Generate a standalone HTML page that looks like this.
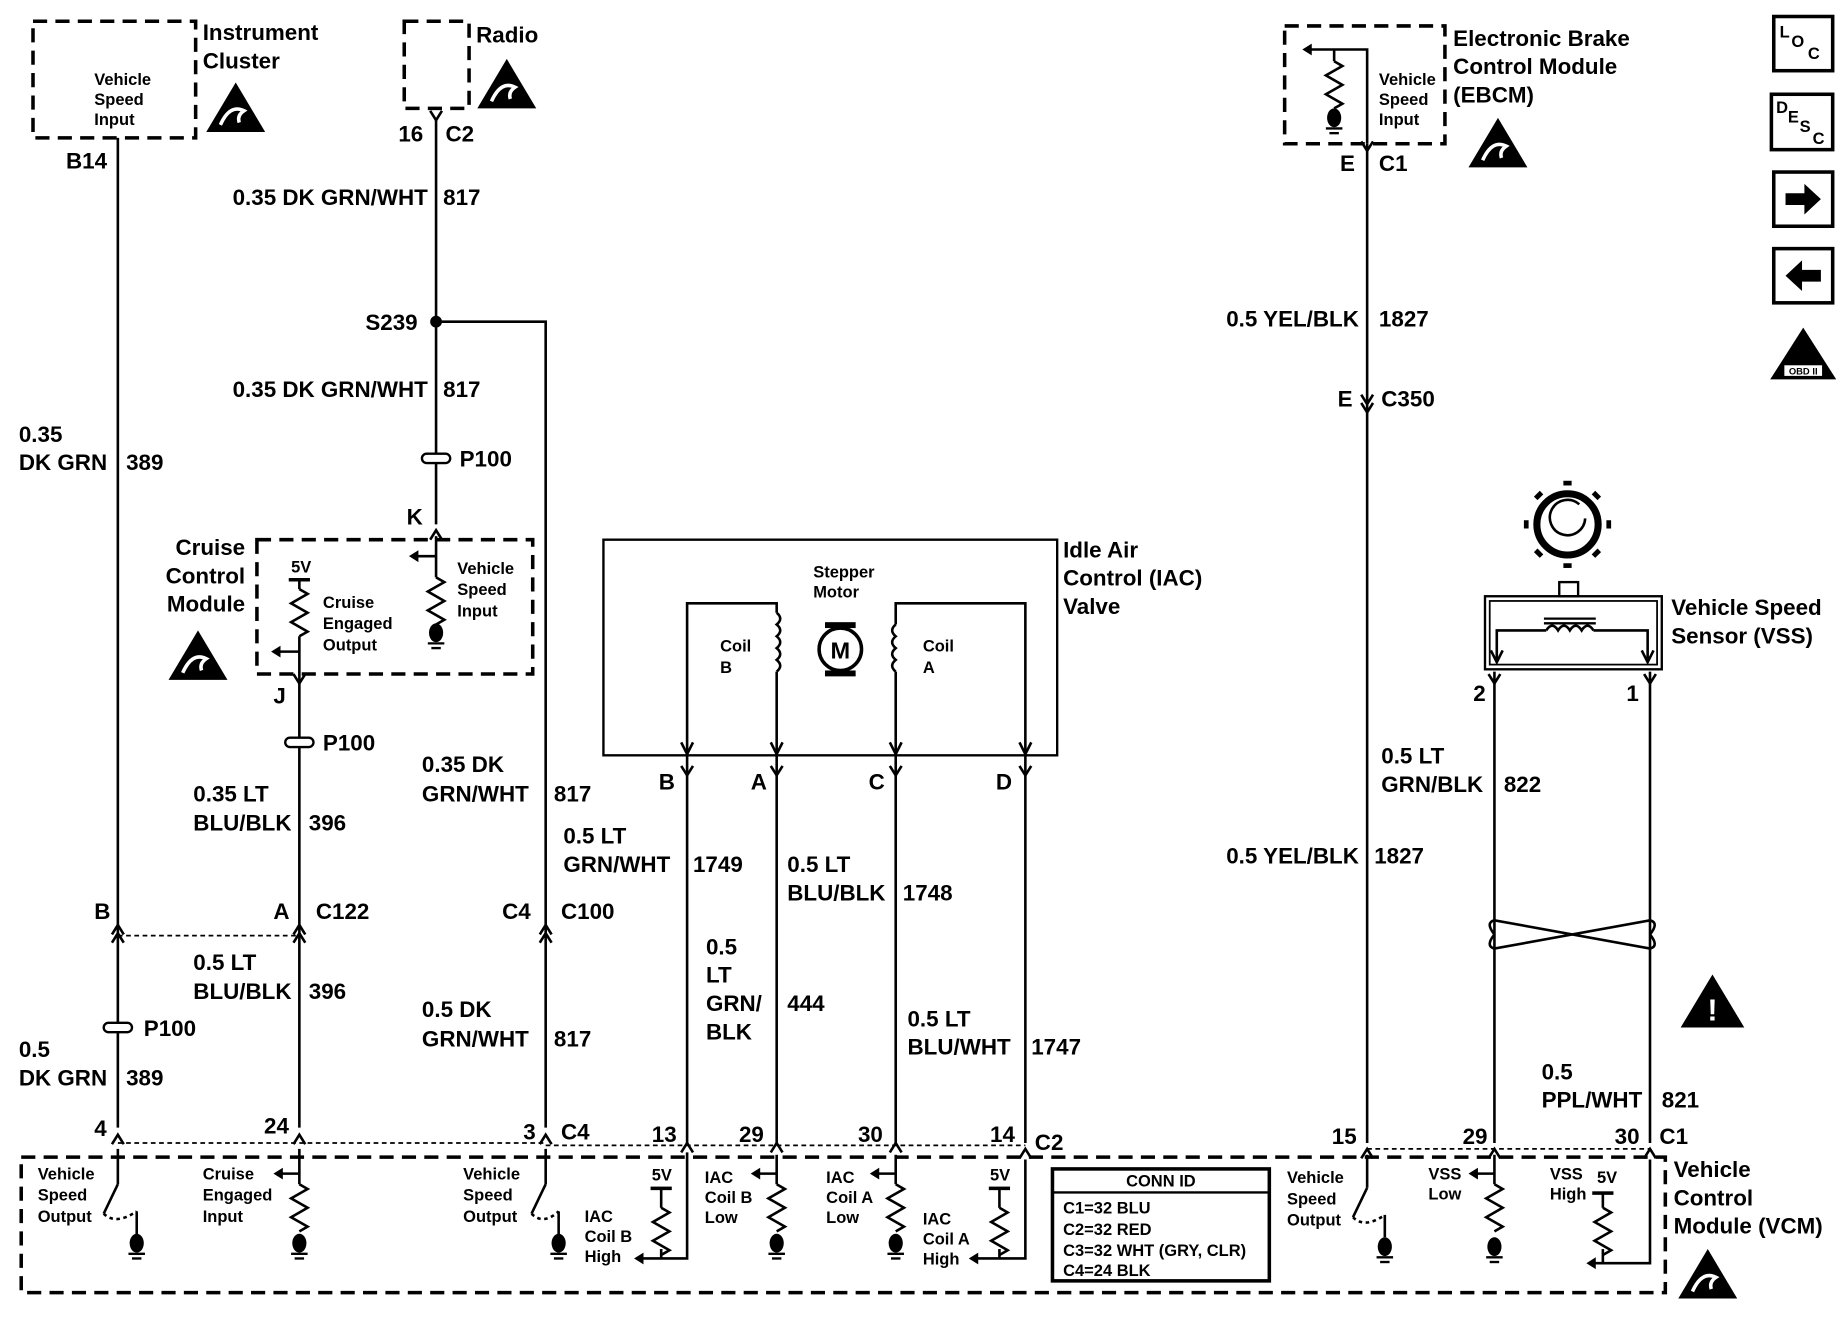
<!DOCTYPE html>
<html><head><meta charset="utf-8"><style>
html,body{margin:0;padding:0;background:#fff}
svg{display:block}
text{font-family:"Liberation Sans",Arial,sans-serif;fill:#000;font-weight:bold}
.l{font-size:19px}
.s{font-size:14px}
.w{stroke:#000;stroke-width:2.2;fill:none}
.d{stroke:#000;stroke-width:3;fill:none;stroke-dasharray:12,7}
.dd{stroke:#000;stroke-width:1.5;fill:none;stroke-dasharray:4,3}
</style></head><body>
<svg width="1848" height="1328" viewBox="0 0 1568 1127" preserveAspectRatio="none" xmlns="http://www.w3.org/2000/svg">
<defs>
<g id="esd"><polygon points="25,0 50,42 0,42" fill="#000"/><path d="M12,36 q8,-18 20,-12 q-6,4 -4,10" stroke="#fff" stroke-width="3" fill="none"/></g>
<path id="res" d="M0,0 l7,4 l-14,8 l14,8 l-14,8 l14,8 l-7,4" class="w"/>
<g id="gnd"><ellipse cx="0" cy="0" rx="6" ry="8" fill="#000"/><line x1="-7" y1="9" x2="7" y2="9" stroke="#000" stroke-width="2"/><line x1="-4" y1="13" x2="4" y2="13" stroke="#000" stroke-width="2"/></g>
<g id="cu"><path d="M-5,8 L0,0 L5,8" class="w"/></g>
<g id="cd"><path d="M-5,-8 L0,0 L5,-8" class="w"/></g>
</defs>
<rect width="1568" height="1127" fill="#fff"/>

<rect x="28" y="18" width="138" height="99" class="d"/>
<text class="s" x="80" y="72">Vehicle</text><text class="s" x="80" y="89">Speed</text><text class="s" x="80" y="106">Input</text>
<text class="l" x="172" y="34">Instrument</text><text class="l" x="172" y="58">Cluster</text>
<use href="#esd" x="175" y="70"/>
<text class="l" x="56" y="143">B14</text>
<line x1="100" y1="117" x2="100" y2="957" class="w"/>
<text class="l" x="16" y="375">0.35</text><text class="l" x="16" y="399">DK GRN</text><text class="l" x="107" y="399">389</text>

<rect x="343" y="18" width="55" height="74" class="d"/>
<text class="l" x="404" y="36">Radio</text>
<use href="#esd" x="405" y="50"/>
<text class="l" x="338" y="120">16</text><text class="l" x="378" y="120">C2</text>
<use href="#cd" x="370" y="102"/>
<line x1="370" y1="102" x2="370" y2="445" class="w"/>
<text class="l" x="363" y="174" text-anchor="end">0.35 DK GRN/WHT</text><text class="l" x="376" y="174">817</text>
<circle cx="370" cy="273" r="5" fill="#000"/>
<text class="l" x="310" y="280">S239</text>
<polyline points="370,273 463,273 463,957" class="w"/>
<text class="l" x="363" y="337" text-anchor="end">0.35 DK GRN/WHT</text><text class="l" x="376" y="337">817</text>
<rect x="358" y="385" width="24" height="8" rx="4" fill="#fff" stroke="#000" stroke-width="2"/>
<text class="l" x="390" y="396">P100</text>
<text class="l" x="345" y="445">K</text>
<use href="#cu" x="370" y="450"/>

<rect x="218" y="458" width="234" height="114" class="d"/>
<text class="l" x="208" y="471" text-anchor="end">Cruise</text><text class="l" x="208" y="495" text-anchor="end">Control</text><text class="l" x="208" y="519" text-anchor="end">Module</text>
<use href="#esd" x="143" y="535"/>
<text class="s" x="247" y="486">5V</text>
<line x1="245" y1="492" x2="263" y2="492" stroke="#000" stroke-width="3"/>
<line x1="254" y1="492" x2="254" y2="500" class="w"/>
<use href="#res" x="254" y="500"/>
<line x1="254" y1="540" x2="254" y2="572" class="w"/>
<line x1="232" y1="553" x2="254" y2="553" class="w"/><path d="M238,548 L230,553 L238,558 Z"/>
<text class="s" x="274" y="516">Cruise</text><text class="s" x="274" y="534">Engaged</text><text class="s" x="274" y="552">Output</text>
<line x1="370" y1="455" x2="370" y2="490" class="w"/>
<use href="#res" x="370" y="490"/>
<use href="#gnd" x="370" y="537"/>
<line x1="350" y1="472" x2="370" y2="472" class="w"/><path d="M355,467 L347,472 L355,477 Z"/>
<text class="s" x="388" y="487">Vehicle</text><text class="s" x="388" y="505">Speed</text><text class="s" x="388" y="523">Input</text>
<text class="l" x="232" y="597">J</text>
<use href="#cd" x="254" y="580"/>
<line x1="254" y1="572" x2="254" y2="957" class="w"/>
<rect x="242" y="626" width="24" height="8" rx="4" fill="#fff" stroke="#000" stroke-width="2"/>
<text class="l" x="274" y="637">P100</text>
<text class="l" x="164" y="680">0.35 LT</text><text class="l" x="164" y="705">BLU/BLK</text><text class="l" x="262" y="705">396</text>

<text class="l" x="80" y="780">B</text><text class="l" x="232" y="780">A</text><text class="l" x="268" y="780">C122</text>
<use href="#cu" x="100" y="785"/><use href="#cu" x="254" y="785"/>
<use href="#cu" x="100" y="792"/><use href="#cu" x="254" y="792"/>
<line x1="100" y1="794" x2="254" y2="794" class="dd"/>
<text class="l" x="164" y="823">0.5 LT</text><text class="l" x="164" y="848">BLU/BLK</text><text class="l" x="262" y="848">396</text>
<rect x="88" y="868" width="24" height="8" rx="4" fill="#fff" stroke="#000" stroke-width="2"/>
<text class="l" x="122" y="879">P100</text>
<text class="l" x="16" y="897">0.5</text><text class="l" x="16" y="921">DK GRN</text><text class="l" x="107" y="921">389</text>

<text class="l" x="358" y="655">0.35 DK</text><text class="l" x="358" y="680">GRN/WHT</text><text class="l" x="470" y="680">817</text>
<text class="l" x="426" y="780">C4</text><text class="l" x="476" y="780">C100</text>
<use href="#cu" x="463" y="785"/><use href="#cu" x="463" y="792"/>
<text class="l" x="358" y="863">0.5 DK</text><text class="l" x="358" y="888">GRN/WHT</text><text class="l" x="470" y="888">817</text>

<rect x="512" y="458" width="385" height="183" fill="none" stroke="#000" stroke-width="2"/>
<text class="l" x="902" y="473">Idle Air</text><text class="l" x="902" y="497">Control (IAC)</text><text class="l" x="902" y="521">Valve</text>
<text class="s" x="690" y="490">Stepper</text><text class="s" x="690" y="507">Motor</text>
<circle cx="713" cy="551" r="18" fill="#fff" stroke="#000" stroke-width="3"/>
<text x="713" y="559" text-anchor="middle" style="font-size:20px">M</text>
<rect x="700" y="528" width="26" height="5" fill="#000"/><rect x="700" y="569" width="26" height="5" fill="#000"/>
<polyline points="583,638 583,512 659,512 659,520" class="w"/>
<path d="M659,520 q6,5 0,10 q6,5 0,10 q6,5 0,10 q6,5 0,10 q6,5 0,10" class="w"/>
<line x1="659" y1="570" x2="659" y2="638" class="w"/>
<text class="s" x="611" y="553">Coil</text><text class="s" x="611" y="571">B</text>
<polyline points="870,638 870,512 760,512 760,530" class="w"/>
<path d="M760,530 q-6,5 0,10 q-6,5 0,10 q-6,5 0,10 q-6,5 0,10" class="w"/>
<line x1="760" y1="570" x2="760" y2="638" class="w"/>
<text class="s" x="783" y="553">Coil</text><text class="s" x="783" y="571">A</text>
<path d="M578,630 L583,640 L588,630 M654,630 L659,640 L664,630 M755,630 L760,640 L765,630 M865,630 L870,640 L875,630" class="w"/>
<text class="l" x="559" y="670">B</text><text class="l" x="637" y="670">A</text><text class="l" x="737" y="670">C</text><text class="l" x="845" y="670">D</text>
<use href="#cd" x="583" y="658"/><use href="#cd" x="659" y="658"/><use href="#cd" x="760" y="658"/><use href="#cd" x="870" y="658"/>
<line x1="583" y1="641" x2="583" y2="970" class="w"/><line x1="659" y1="641" x2="659" y2="970" class="w"/>
<line x1="760" y1="641" x2="760" y2="970" class="w"/><line x1="870" y1="641" x2="870" y2="970" class="w"/>
<text class="l" x="478" y="716">0.5 LT</text><text class="l" x="478" y="740">GRN/WHT</text><text class="l" x="588" y="740">1749</text>
<text class="l" x="668" y="740">0.5 LT</text><text class="l" x="668" y="764">BLU/BLK</text><text class="l" x="766" y="764">1748</text>
<text class="l" x="599" y="810">0.5</text><text class="l" x="599" y="834">LT</text><text class="l" x="599" y="858">GRN/</text><text class="l" x="599" y="882">BLK</text><text class="l" x="668" y="858">444</text>
<text class="l" x="770" y="871">0.5 LT</text><text class="l" x="770" y="895">BLU/WHT</text><text class="l" x="875" y="895">1747</text>

<rect x="1090" y="22" width="136" height="100" class="d"/>
<text class="l" x="1233" y="39">Electronic Brake</text><text class="l" x="1233" y="63">Control Module</text><text class="l" x="1233" y="87">(EBCM)</text>
<use href="#esd" x="1246" y="100"/>
<polyline points="1110,42 1160,42 1160,122" class="w"/><path d="M1113,37 L1105,42 L1113,47 Z"/>
<line x1="1132" y1="42" x2="1132" y2="52" class="w"/><use href="#res" x="1132" y="52"/><use href="#gnd" x="1132" y="100"/>
<text class="s" x="1170" y="72">Vehicle</text><text class="s" x="1170" y="89">Speed</text><text class="s" x="1170" y="106">Input</text>
<text class="l" x="1137" y="145">E</text><text class="l" x="1170" y="145">C1</text>
<use href="#cd" x="1160" y="128"/>
<line x1="1160" y1="122" x2="1160" y2="970" class="w"/>
<text class="l" x="1153" y="277" text-anchor="end">0.5 YEL/BLK</text><text class="l" x="1170" y="277">1827</text>
<text class="l" x="1135" y="345">E</text><text class="l" x="1172" y="345">C350</text>
<use href="#cd" x="1160" y="343"/><use href="#cd" x="1160" y="350"/>
<text class="l" x="1153" y="733" text-anchor="end">0.5 YEL/BLK</text><text class="l" x="1166" y="733">1827</text>

<circle cx="1330" cy="445" r="26" fill="#fff" stroke="#000" stroke-width="6"/>
<g stroke="#000" stroke-width="7">
<line x1="1330" y1="412" x2="1330" y2="408"/><line x1="1330" y1="478" x2="1330" y2="482"/>
<line x1="1297" y1="445" x2="1293" y2="445"/><line x1="1363" y1="445" x2="1367" y2="445"/>
<line x1="1307" y1="422" x2="1304" y2="419"/><line x1="1353" y1="422" x2="1356" y2="419"/>
<line x1="1307" y1="468" x2="1304" y2="471"/><line x1="1353" y1="468" x2="1356" y2="471"/></g>
<path d="M1345,440 a15,15 0 1 1 -5,-12" class="w" stroke-width="3"/>
<rect x="1323" y="494" width="16" height="12" fill="#fff" stroke="#000" stroke-width="2"/>
<rect x="1260" y="506" width="150" height="62" fill="none" stroke="#000" stroke-width="2"/>
<rect x="1264" y="510" width="142" height="54" fill="none" stroke="#000" stroke-width="1.5"/>
<polyline points="1270,560 1270,535 1312,535" class="w"/><path d="M1312,535 q5,-8 10,0 q5,-8 10,0 q5,-8 10,0 q5,-8 10,0" class="w"/><polyline points="1352,535 1398,535 1398,560" class="w"/>
<line x1="1310" y1="525" x2="1354" y2="525" stroke="#000" stroke-width="2"/><line x1="1310" y1="529" x2="1354" y2="529" stroke="#000" stroke-width="2"/>
<path d="M1265,552 L1270,562 L1275,552 M1393,552 L1398,562 L1403,552" class="w"/>
<text class="l" x="1418" y="522">Vehicle Speed</text><text class="l" x="1418" y="546">Sensor (VSS)</text>
<text class="l" x="1250" y="595">2</text><text class="l" x="1380" y="595">1</text>
<use href="#cd" x="1268" y="580"/><use href="#cd" x="1400" y="580"/>
<line x1="1268" y1="570" x2="1268" y2="970" class="w"/><line x1="1400" y1="570" x2="1400" y2="970" class="w"/>
<path d="M1268,793 q-8,-10 0,-12 L1400,805 q8,-2 0,-12 M1268,793 q-8,10 0,12 L1400,781 q8,2 0,12" class="w"/>
<text class="l" x="1172" y="648">0.5 LT</text><text class="l" x="1172" y="672">GRN/BLK</text><text class="l" x="1276" y="672">822</text>
<polygon points="1453,827 1480,872 1426,872" fill="#000"/>
<text x="1453" y="866" text-anchor="middle" style="font-size:26px;font-weight:bold;fill:#fff">!</text>
<text class="l" x="1308" y="916">0.5</text><text class="l" x="1308" y="940">PPL/WHT</text><text class="l" x="1410" y="940">821</text>

<text class="l" x="80" y="964">4</text><text class="l" x="224" y="962">24</text><text class="l" x="444" y="967">3</text><text class="l" x="476" y="967">C4</text>
<text class="l" x="553" y="969">13</text><text class="l" x="627" y="969">29</text><text class="l" x="728" y="969">30</text><text class="l" x="840" y="969">14</text><text class="l" x="878" y="976">C2</text>
<text class="l" x="1130" y="971">15</text><text class="l" x="1241" y="971">29</text><text class="l" x="1370" y="971">30</text><text class="l" x="1408" y="971">C1</text>
<g>
<use href="#cu" x="100" y="963"/><use href="#cu" x="254" y="963"/><use href="#cu" x="463" y="963"/><use href="#cu" x="583" y="970"/><use href="#cu" x="659" y="970"/><use href="#cu" x="760" y="970"/><use href="#cu" x="870" y="975"/><use href="#cu" x="1160" y="975"/><use href="#cu" x="1268" y="975"/><use href="#cu" x="1400" y="975"/>
</g>
<polyline points="100,970 463,970" class="dd"/><polyline points="463,972 870,972" class="dd"/><polyline points="1160,975 1400,975" class="dd"/>

<rect x="18" y="982" width="1395" height="115" class="d"/>
<text class="l" x="1420" y="999">Vehicle</text><text class="l" x="1420" y="1023">Control</text><text class="l" x="1420" y="1047">Module (VCM)</text>
<use href="#esd" x="1424" y="1060"/>
<text class="s" x="32" y="1001">Vehicle</text><text class="s" x="32" y="1019">Speed</text><text class="s" x="32" y="1037">Output</text>
<text class="s" x="172" y="1001">Cruise</text><text class="s" x="172" y="1019">Engaged</text><text class="s" x="172" y="1037">Input</text>
<text class="s" x="393" y="1001">Vehicle</text><text class="s" x="393" y="1019">Speed</text><text class="s" x="393" y="1037">Output</text>
<text class="s" x="1092" y="1004">Vehicle</text><text class="s" x="1092" y="1022">Speed</text><text class="s" x="1092" y="1040">Output</text>
<g class="w">
<line x1="100" y1="975" x2="100" y2="1005"/><line x1="100" y1="1005" x2="88" y2="1030"/><line x1="116" y1="1028" x2="116" y2="1048"/><path d="M88,1030 q10,10 28,-2" stroke-dasharray="3,3"/>
<line x1="463" y1="975" x2="463" y2="1005"/><line x1="463" y1="1005" x2="451" y2="1030"/><line x1="474" y1="1028" x2="474" y2="1048"/><path d="M451,1030 q10,10 23,-2" stroke-dasharray="3,3"/>
<line x1="1160" y1="980" x2="1160" y2="1008"/><line x1="1160" y1="1008" x2="1148" y2="1033"/><line x1="1175" y1="1031" x2="1175" y2="1050"/><path d="M1148,1033 q10,10 27,-2" stroke-dasharray="3,3"/>
<line x1="254" y1="975" x2="254" y2="1005"/><line x1="236" y1="996" x2="254" y2="996"/>
<line x1="659" y1="980" x2="659" y2="1005"/><line x1="641" y1="996" x2="659" y2="996"/>
<line x1="760" y1="980" x2="760" y2="1005"/><line x1="742" y1="996" x2="760" y2="996"/>
<line x1="1268" y1="980" x2="1268" y2="1005"/><line x1="1250" y1="996" x2="1268" y2="996"/>
<polyline points="583,978 583,1068 542,1068"/><polyline points="870,984 870,1068 826,1068"/><polyline points="1400,984 1400,1072 1350,1072"/>
<line x1="561" y1="1008" x2="561" y2="1025"/><line x1="848" y1="1008" x2="848" y2="1025"/><line x1="1360" y1="1012" x2="1360" y2="1025"/>
<line x1="561" y1="1060" x2="561" y2="1068"/><line x1="848" y1="1060" x2="848" y2="1068"/><line x1="1360" y1="1060" x2="1360" y2="1072"/>
</g>
<use href="#gnd" x="116" y="1055"/><use href="#gnd" x="474" y="1055"/><use href="#gnd" x="1175" y="1058"/>
<use href="#res" x="254" y="1005"/><use href="#gnd" x="254" y="1055"/>
<use href="#res" x="659" y="1005"/><use href="#gnd" x="659" y="1055"/>
<use href="#res" x="760" y="1005"/><use href="#gnd" x="760" y="1055"/>
<use href="#res" x="1268" y="1005"/><use href="#gnd" x="1268" y="1058"/>
<use href="#res" x="561" y="1025"/><use href="#res" x="848" y="1025"/><use href="#res" x="1360" y="1025"/>
<g fill="#000"><path d="M240,991 L232,996 L240,1001Z"/><path d="M645,991 L637,996 L645,1001Z"/><path d="M746,991 L738,996 L746,1001Z"/><path d="M1254,991 L1246,996 L1254,1001Z"/>
<path d="M546,1063 L538,1068 L546,1073Z"/><path d="M830,1063 L822,1068 L830,1073Z"/><path d="M1354,1067 L1346,1072 L1354,1077Z"/>
<rect x="552" y="1007" width="18" height="3"/><rect x="839" y="1007" width="18" height="3"/><rect x="1351" y="1011" width="18" height="3"/></g>
<text class="s" x="553" y="1002">5V</text><text class="s" x="840" y="1002">5V</text><text class="s" x="1355" y="1004">5V</text>
<text class="s" x="496" y="1037">IAC</text><text class="s" x="496" y="1054">Coil B</text><text class="s" x="496" y="1071">High</text>
<text class="s" x="598" y="1004">IAC</text><text class="s" x="598" y="1021">Coil B</text><text class="s" x="598" y="1038">Low</text>
<text class="s" x="701" y="1004">IAC</text><text class="s" x="701" y="1021">Coil A</text><text class="s" x="701" y="1038">Low</text>
<text class="s" x="783" y="1039">IAC</text><text class="s" x="783" y="1056">Coil A</text><text class="s" x="783" y="1073">High</text>
<text class="s" x="1212" y="1001">VSS</text><text class="s" x="1212" y="1018">Low</text>
<text class="s" x="1315" y="1001">VSS</text><text class="s" x="1315" y="1018">High</text>

<rect x="893" y="992" width="184" height="95" fill="#fff" stroke="#000" stroke-width="3"/>
<line x1="893" y1="1012" x2="1077" y2="1012" stroke="#000" stroke-width="2"/>
<text class="s" x="985" y="1007" text-anchor="middle">CONN ID</text>
<text class="s" x="902" y="1030">C1=32 BLU</text><text class="s" x="902" y="1048">C2=32 RED</text><text class="s" x="902" y="1066">C3=32 WHT (GRY, CLR)</text><text class="s" x="902" y="1083">C4=24 BLK</text>

<rect x="1505" y="14" width="50" height="46" fill="none" stroke="#000" stroke-width="3"/>
<text class="s" x="1510" y="32">L</text><text class="s" x="1520" y="40">O</text><text class="s" x="1534" y="50">C</text>
<rect x="1503" y="80" width="52" height="47" fill="none" stroke="#000" stroke-width="3"/>
<text class="s" x="1507" y="96">D</text><text class="s" x="1517" y="104">E</text><text class="s" x="1527" y="112">S</text><text class="s" x="1538" y="122">C</text>
<rect x="1505" y="146" width="50" height="46" fill="none" stroke="#000" stroke-width="3"/>
<path d="M1515,164 h16 v-8 l14,13 l-14,13 v-8 h-16z" fill="#000"/>
<rect x="1505" y="211" width="50" height="46" fill="none" stroke="#000" stroke-width="3"/>
<path d="M1545,229 h-16 v-8 l-14,13 l14,13 v-8 h16z" fill="#000"/>
<polygon points="1530,278 1558,322 1502,322" fill="#000"/>
<rect x="1514" y="310" width="32" height="9" fill="#fff"/>
<text x="1530" y="318" text-anchor="middle" style="font-size:8px">OBD II</text>
</svg>
</body></html>
